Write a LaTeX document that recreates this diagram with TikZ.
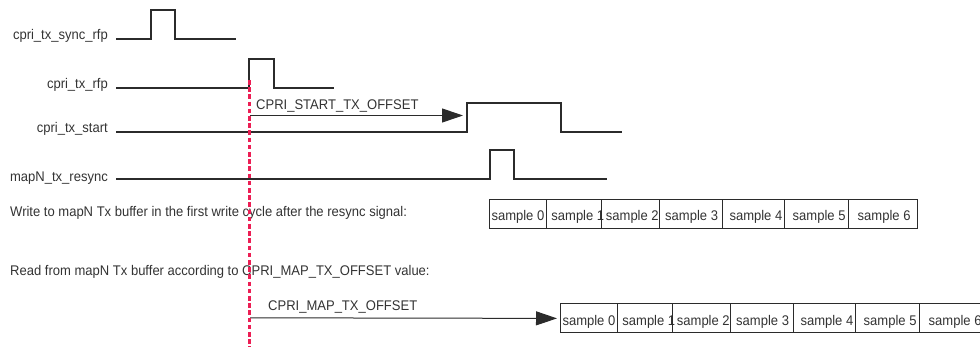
\documentclass[tikz,border=0pt]{standalone}
\usepackage{fontspec}
\setmainfont{Liberation Sans}[FakeStretch=0.93]
\usetikzlibrary{arrows.meta}
\definecolor{sig}{HTML}{2B2B2B}
\definecolor{txt}{HTML}{333333}
\definecolor{markred}{RGB}{236,30,84}
\begin{document}
\begin{tikzpicture}[x=1pt,y=-1pt,
  font=\fontsize{14}{16}\selectfont,
  wave/.style={draw=sig, line width=1.1pt, line join=miter},
  siglabel/.style={anchor=base east, inner sep=0pt, text=txt},
  note/.style={anchor=base west, inner sep=0pt, text=txt},
  cell/.style={draw=sig, line width=1.2pt, anchor=north west,
    minimum height=29pt, inner sep=0pt},
  celltext/.style={anchor=base west, inner sep=0pt, text=txt},
  offsetarrow/.style={draw=sig, line width=1pt,
    -{Triangle[length=21pt,width=14pt]}},
  refmark/.style={draw=markred, line width=2.8pt,
    dash pattern=on 4.7pt off 2.5pt}
]
\useasboundingbox (0,0) rectangle (980,347);
\clip (0,0) rectangle (980,347);

% signal names
\node[siglabel] (lsync)   at (108,40)  {cpri\_tx\_sync\_rfp};
\node[siglabel] (lrfp)    at (108,89)  {cpri\_tx\_rfp};
\node[siglabel] (lstart)  at (108,133) {cpri\_tx\_start};
\node[siglabel] (lresync) at (108,182) {mapN\_tx\_resync};

% waveforms
\draw[wave] (116,39) -- (151,39) -- (151,10) -- (175,10) -- (175,39) -- (236,39);
\draw[wave] (116,88) -- (249,88) -- (249,59) -- (274,59) -- (274,88) -- (334,88);
\draw[wave] (116,132) -- (467,132) -- (467,103) -- (561,103) -- (561,132) -- (622,132);
\draw[wave] (116,179) -- (490,179) -- (490,150) -- (514,150) -- (514,179) -- (607,179);

% buffer descriptions
\node[note] (wnote) at (10,217) {Write to mapN Tx buffer in the first write cycle after the resync signal:};
\node[note] (rnote) at (10,276) {Read from mapN Tx buffer according to CPRI\_MAP\_TX\_OFFSET value:};

% sample slots: write buffer and delayed read buffer
\foreach \l/\w/\o [count=\i from 0] in {489/57/2.3, 546/55/5.2, 601/58/4.7,
    659/63/6, 722/62/7.3, 784/64/8.5, 848/69/9.5} {
  \node[celltext] (wt\i) at (\l+\o,221) {sample \i};
  \node[cell, minimum width=\w pt] (w\i) at (\l,199) {};
  \node[celltext] (rt\i) at (\l+71+\o,325.3) {sample \i};
  \node[cell, minimum width=\w pt] (r\i) at (\l+71,303.3) {};
}

% offset arrows
\coordinate (startorigin) at (250,115.5);
\coordinate (startrise) at (467,115.5);
\node[note] (startlbl) at (256,110) {CPRI\_START\_TX\_OFFSET};
\draw[offsetarrow, shorten >=4pt] (startorigin) -- (startrise);

\coordinate (maporigin) at (250,317.8);
\node[note] (maplbl) at (268,311) {CPRI\_MAP\_TX\_OFFSET};
\draw[offsetarrow, shorten >=3pt] (maporigin) -- (r0.west);

% reference instant
\coordinate (marktop) at (249.3,80);
\coordinate (markbot) at (249.3,350);
\draw[refmark] (marktop) -- (markbot);
\end{tikzpicture}
\end{document}
